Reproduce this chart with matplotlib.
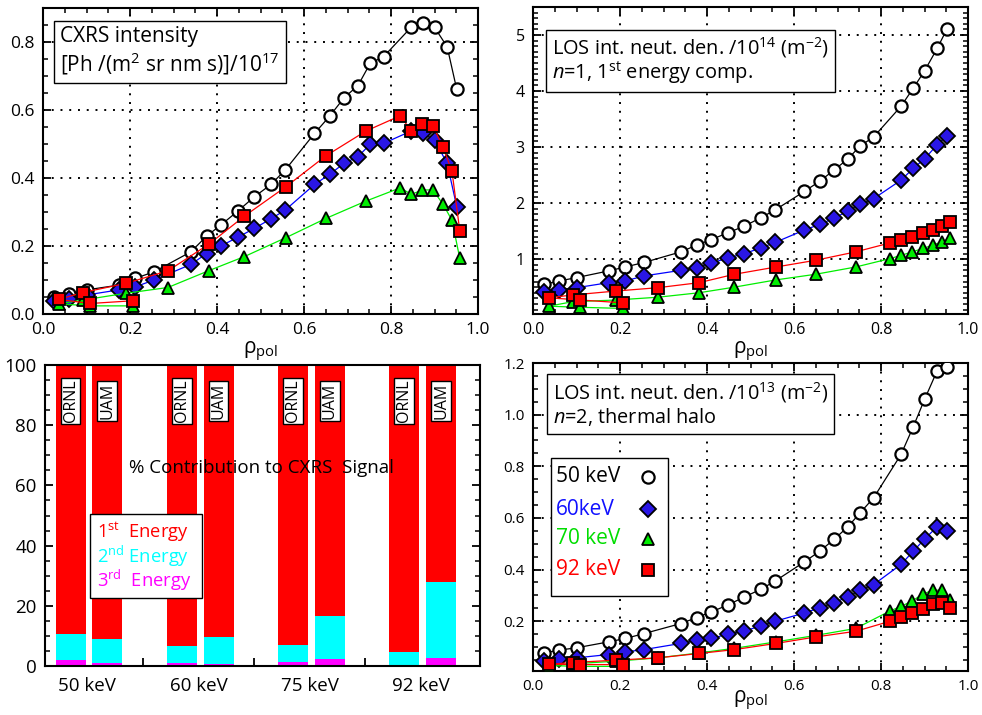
import numpy as np
import matplotlib
matplotlib.use("Agg")
import matplotlib.pyplot as plt
from matplotlib.patches import Rectangle
from matplotlib.ticker import MultipleLocator

plt.rcParams['font.family'] = ['Open Sans', 'DejaVu Sans']
plt.rcParams['mathtext.fontset'] = 'custom'
plt.rcParams['mathtext.rm'] = 'Open Sans'
plt.rcParams['mathtext.it'] = 'Open Sans:italic'
plt.rcParams['mathtext.bf'] = 'Open Sans:bold'

# ---------------- data ----------------
# radial positions of lines of sight (50/60 keV grid and 70/92 keV grid)
rho_a = [0.025, 0.060, 0.100, 0.174, 0.212, 0.255, 0.340, 0.376, 0.410, 0.448, 0.486, 0.524,
         0.557, 0.624, 0.659, 0.692, 0.724, 0.752, 0.783, 0.846, 0.874, 0.900, 0.929, 0.951]
rho_b = [0.036, 0.091, 0.109, 0.190, 0.206, 0.287, 0.382, 0.463, 0.559, 0.650, 0.742, 0.821,
         0.847, 0.872, 0.896, 0.919, 0.940, 0.958]
main_b = [0, 1, 3, 5, 6, 7, 8, 9, 10, 11, 12, 13, 14, 15, 16, 17]
side_b = [0, 2, 4]

# CXRS intensity /1e17
cx_50 = [0.051, 0.059, 0.071, 0.085, 0.105, 0.124, 0.183, 0.229, 0.263, 0.303, 0.345, 0.381,
         0.424, 0.531, 0.582, 0.636, 0.672, 0.737, 0.757, 0.843, 0.857, 0.843, 0.786, 0.661]
cx_60 = [0.039, 0.044, 0.056, 0.071, 0.080, 0.100, 0.146, 0.178, 0.201, 0.226, 0.252, 0.280,
         0.306, 0.381, 0.411, 0.443, 0.463, 0.499, 0.502, 0.538, 0.531, 0.512, 0.443, 0.316]
cx_70 = [0.030, 0.041, 0.024, 0.061, 0.024, 0.078, 0.128, 0.169, 0.225, 0.281, 0.332, 0.371,
         0.352, 0.365, 0.365, 0.324, 0.276, 0.164]
cx_92 = [0.043, 0.063, 0.031, 0.090, 0.039, 0.127, 0.206, 0.288, 0.375, 0.465, 0.538, 0.583,
         0.538, 0.558, 0.554, 0.492, 0.421, 0.245]

# LOS integrated neutral density n=1 (/1e14)
n1_50 = [0.55, 0.61, 0.67, 0.79, 0.86, 0.94, 1.13, 1.25, 1.35, 1.47, 1.59, 1.74,
         1.88, 2.21, 2.39, 2.59, 2.79, 3.02, 3.18, 3.73, 4.05, 4.36, 4.76, 5.10]
n1_60 = [0.41, 0.45, 0.49, 0.58, 0.61, 0.70, 0.80, 0.85, 0.93, 1.02, 1.10, 1.20,
         1.30, 1.52, 1.62, 1.73, 1.86, 1.98, 2.08, 2.41, 2.62, 2.79, 3.04, 3.20]
n1_70 = [0.16, 0.24, 0.14, 0.27, 0.12, 0.32, 0.40, 0.50, 0.63, 0.73, 0.86, 1.01,
         1.07, 1.13, 1.19, 1.25, 1.31, 1.37]
n1_92 = [0.31, 0.36, 0.27, 0.43, 0.22, 0.49, 0.58, 0.73, 0.86, 0.98, 1.13, 1.29,
         1.34, 1.40, 1.46, 1.52, 1.59, 1.66]

# LOS integrated neutral density n=2 halo (/1e13)
n2_50 = [0.077, 0.088, 0.097, 0.120, 0.133, 0.152, 0.191, 0.214, 0.236, 0.263, 0.294, 0.324,
         0.356, 0.430, 0.471, 0.517, 0.566, 0.620, 0.678, 0.846, 0.953, 1.059, 1.170, 1.183]
n2_60 = [0.046, 0.053, 0.058, 0.071, 0.081, 0.090, 0.114, 0.126, 0.133, 0.150, 0.162, 0.182,
         0.200, 0.232, 0.252, 0.272, 0.294, 0.320, 0.342, 0.420, 0.471, 0.518, 0.566, 0.549]
n2_70 = [0.028, 0.035, 0.025, 0.045, 0.025, 0.058, 0.077, 0.095, 0.120, 0.145, 0.172, 0.240,
         0.258, 0.279, 0.305, 0.320, 0.320, 0.284]
n2_92 = [0.033, 0.040, 0.032, 0.049, 0.032, 0.058, 0.075, 0.090, 0.114, 0.139, 0.161, 0.200,
         0.217, 0.232, 0.249, 0.266, 0.271, 0.252]

# bar chart: % contribution to CXRS signal
beam_labels = ['50 keV', '60 keV', '75 keV', '92 keV']
codes = ['ORNL', 'UAM']
pct_1st = [[89.4, 91.0], [93.4, 90.4], [93.0, 83.4], [95.3, 72.1]]
pct_2nd = [[8.6, 8.1], [5.7, 8.9], [5.7, 14.4], [4.3, 25.2]]
pct_3rd = [[2.0, 0.9], [0.9, 0.7], [1.3, 2.2], [0.4, 2.7]]
energy_labels = ['1$^{\\mathrm{st}}$  Energy', '2$^{\\mathrm{nd}}$ Energy', '3$^{\\mathrm{rd}}$  Energy']

legend_labels = ['50 keV', '60keV', '70 keV', '92 keV']

# ---------------- styles ----------------
C_BLACK, C_BLUE, C_GREEN, C_RED = 'black', '#2a16e6', '#00ee00', '#ff0000'
L_BLUE = '#0000ff'
MS = 8.8
MSD = 8.6
MEW = 1.3


def style_axes(ax, fs):
    for s in ax.spines.values():
        s.set_linewidth(1.5)
    ax.tick_params(which='both', direction='in', top=True, right=True, labelsize=fs)
    ax.tick_params(which='major', length=6, width=1.3, pad=6)
    ax.tick_params(which='minor', length=3.5, width=1.1)


def plot_profiles(ax, a50, a60, a70, a92):
    ax.plot(rho_a, a50, '-', color=C_BLACK, lw=0.9, zorder=3)
    ax.plot(rho_a, a50, 'o', ms=MS, mfc='white', mec='black', mew=1.6, zorder=4)
    ax.plot(rho_a, a60, '-', color=L_BLUE, lw=0.9, zorder=5)
    ax.plot(rho_a, a60, 'D', ms=MSD, mfc=C_BLUE, mec='black', mew=MEW, zorder=6)
    rb = np.array(rho_b)
    for vals, col, mk, z in ((a70, C_GREEN, '^', 7), (a92, C_RED, 's', 9)):
        v = np.array(vals)
        ax.plot(rb[main_b], v[main_b], '-', color=col, lw=0.9, zorder=z)
        ax.plot(rb[side_b], v[side_b], '-', color=col, lw=0.9, zorder=z)
        ax.plot(rb, v, mk, ms=MS, mfc=col, mec='black', mew=MEW, zorder=z + 1)
    ax.set_xlim(0, 1.0)
    ax.xaxis.set_major_locator(MultipleLocator(0.2))
    ax.xaxis.set_minor_locator(MultipleLocator(0.05))
    ax.grid(True, which='major', color='black', linestyle=(0, (1, 3.5)), linewidth=1.4)
    ax.xaxis.set_major_formatter(plt.FormatStrFormatter('%.1f'))


fig = plt.figure(figsize=(9.82, 7.15), dpi=100)
ax1 = fig.add_axes([0.0438, 0.5608, 0.443, 0.428])
ax2 = fig.add_axes([0.5428, 0.5608, 0.443, 0.4294])
ax3 = fig.add_axes([0.0458, 0.0685, 0.443, 0.421])
ax4 = fig.add_axes([0.5428, 0.0615, 0.443, 0.4308])

xlab = r'$\mathregular{\rho_{pol}}$'
box = dict(boxstyle='square,pad=0.3', fc='white', ec='black', lw=1.0)

# ---- top-left: CXRS intensity
plot_profiles(ax1, cx_50, cx_60, cx_70, cx_92)
ax1.set_ylim(0, 0.9)
ax1.yaxis.set_major_locator(MultipleLocator(0.2))
ax1.yaxis.set_minor_locator(MultipleLocator(0.05))
ax1.yaxis.set_major_formatter(plt.FormatStrFormatter('%.1f'))
style_axes(ax1, 12.5)
ax1.set_xlabel(xlab, fontsize=15, labelpad=1)
ax1.text(0.04, 0.94, 'CXRS intensity\n[Ph /(m$^2$ sr nm s)]/10$^{17}$', transform=ax1.transAxes,
         fontsize=15, va='top', ha='left', linespacing=1.12, zorder=20, bbox=box)

# ---- top-right: n=1 neutral density
plot_profiles(ax2, n1_50, n1_60, n1_70, n1_92)
ax2.set_ylim(0.02, 5.5)
ax2.set_yticks([1, 2, 3, 4, 5])
ax2.yaxis.set_minor_locator(MultipleLocator(0.1))
style_axes(ax2, 11.5)
ax2.set_xlabel(xlab, fontsize=15, labelpad=1)
ax2.text(0.043, 0.91, 'LOS int. neut. den. /10$^{14}$ (m$^{-2}$)\n$n$=1, 1$^{\\mathrm{st}}$ energy comp.',
         transform=ax2.transAxes, fontsize=14.4, va='top', ha='left', linespacing=1.0, zorder=20,
         bbox=box)

# ---- bottom-right: n=2 halo
plot_profiles(ax4, n2_50, n2_60, n2_70, n2_92)
ax4.set_ylim(0.007, 1.2)
ax4.set_yticks([0.2, 0.4, 0.6, 0.8, 1.0, 1.2])
ax4.yaxis.set_minor_locator(MultipleLocator(0.05))
ax4.yaxis.set_major_formatter(plt.FormatStrFormatter('%.1f'))
style_axes(ax4, 11)
ax4.set_xlabel(xlab, fontsize=15, labelpad=-4)
ax4.text(0.046, 0.944, 'LOS int. neut. den. /10$^{13}$ (m$^{-2}$)\n$n$=2, thermal halo',
         transform=ax4.transAxes, fontsize=14.3, va='top', ha='left', linespacing=1.05, zorder=20,
         bbox=box)

# manual legend (text first, marker to the right)
ax4.add_patch(Rectangle((0.041, 0.2435), 0.269, 0.448, transform=ax4.transAxes,
                        fc='white', ec='black', lw=1.0, zorder=19))
leg_styles = [dict(marker='o', ms=MS, mfc='white', mec='black', mew=1.6),
              dict(marker='D', ms=MSD, mfc=C_BLUE, mec='black', mew=MEW),
              dict(marker='^', ms=MS, mfc=C_GREEN, mec='black', mew=MEW),
              dict(marker='s', ms=MS, mfc=C_RED, mec='black', mew=MEW)]
leg_colors = ['black', '#1010ff', '#00dd00', '#ff0000']
leg_y = [0.630, 0.526, 0.429, 0.328]
for lab, st, col, yy in zip(legend_labels, leg_styles, leg_colors, leg_y):
    ax4.text(0.053, yy, lab, color=col, fontsize=15, ha='left', va='center',
             transform=ax4.transAxes, zorder=21)
    ax4.plot([0.264], [yy], ls='none', transform=ax4.transAxes, zorder=21, clip_on=False, **st)

# ---- bottom-left: bars
offs = [-0.15, 0.18]
width = 0.27
for g in range(4):
    for k in range(2):
        x = g + offs[k]
        b3 = pct_3rd[g][k]
        b2 = pct_2nd[g][k]
        b1 = pct_1st[g][k]
        ax3.bar(x, b3, width, color='#ff00ff', zorder=2)
        ax3.bar(x, b2, width, bottom=b3, color='#00ffff', zorder=2)
        ax3.bar(x, b1, width, bottom=b3 + b2, color='#ff0000', zorder=2)
        ax3.text(x, 88, codes[k], rotation=90, ha='center', va='center', fontsize=11.5, zorder=5,
                 bbox=dict(boxstyle='square,pad=0.12', fc='white', ec='black', lw=1.0))
ax3.set_xlim(-0.38, 3.53)
ax3.set_ylim(0, 100)
ax3.set_xticks(range(4))
ax3.set_xticklabels(beam_labels)
ax3.set_xticks([0.5, 1.5, 2.5], minor=True)
ax3.yaxis.set_major_locator(MultipleLocator(20))
ax3.yaxis.set_minor_locator(MultipleLocator(5))
for s in ax3.spines.values():
    s.set_linewidth(1.5)
    s.set_zorder(6)
ax3.tick_params(axis='y', which='both', direction='in', left=True, right=True, labelsize=13.5)
ax3.tick_params(axis='y', which='major', length=6, width=1.3, pad=6)
ax3.tick_params(axis='y', which='minor', length=3.5, width=1.1)
ax3.tick_params(axis='x', which='major', length=0, labelsize=13.5, pad=8)
ax3.tick_params(axis='x', which='minor', direction='in', length=6, width=1.3, top=False)
ax3.text(1.57, 65.8, '% Contribution to CXRS  Signal', ha='center', va='center', fontsize=13.5, zorder=5)

# energy-component legend box
ax3.add_patch(Rectangle((0.027, 22.6), 1.006, 27.9, fc='white', ec='black', lw=1.0, zorder=7))
for lab, col, yy in zip(energy_labels, ['#ff0000', '#00ffff', '#ff00ff'], [44.6, 36.4, 28.6]):
    ax3.text(0.09, yy, lab, color=col, fontsize=13.2, ha='left', va='center', zorder=8)

fig.savefig('out.png', dpi=100)
